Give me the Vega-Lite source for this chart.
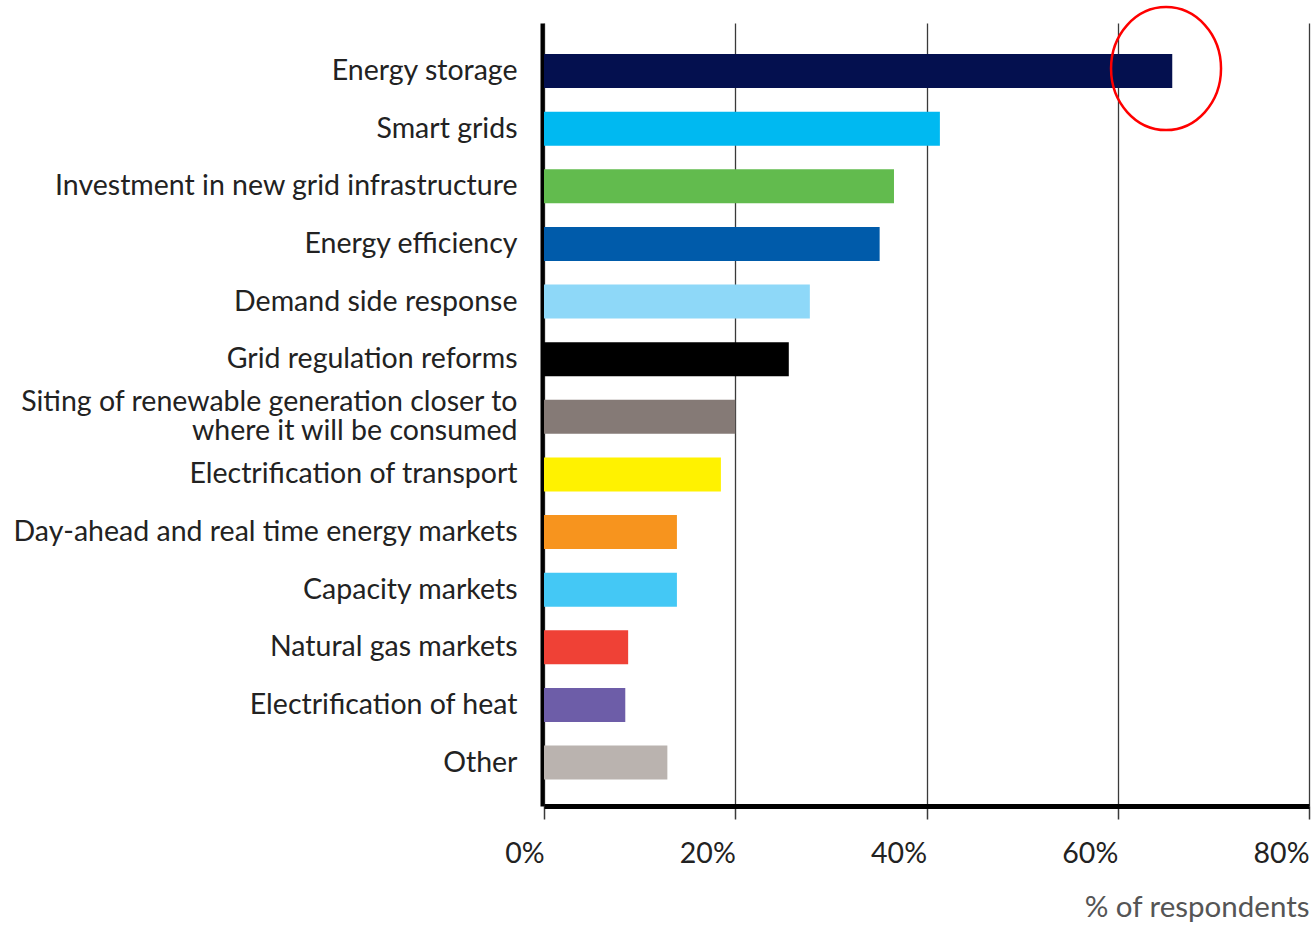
{
  "$schema": "https://vega.github.io/schema/vega-lite/v6.json",
  "autosize": "none",
  "width": 765,
  "height": 783,
  "padding": {"left": 544, "top": 23, "right": 3, "bottom": 119},
  "background": "white",
  "config": {
    "view": {"stroke": null},
    "font": "Lato",
    "axis": {"labelFont": "Lato", "titleFont": "Lato"}
  },
  "datasets": {
    "bars": [
      {"category": "Energy storage", "pct": 65.7},
      {"category": "Smart grids", "pct": 41.4},
      {"category": "Investment in new grid infrastructure", "pct": 36.6},
      {"category": "Energy efficiency", "pct": 35.1},
      {"category": "Demand side response", "pct": 27.8},
      {"category": "Grid regulation reforms", "pct": 25.6},
      {"category": "Siting of renewable generation closer to where it will be consumed", "pct": 20.0},
      {"category": "Electrification of transport", "pct": 18.5},
      {"category": "Day-ahead and real time energy markets", "pct": 13.9},
      {"category": "Capacity markets", "pct": 13.9},
      {"category": "Natural gas markets", "pct": 8.8},
      {"category": "Electrification of heat", "pct": 8.5},
      {"category": "Other", "pct": 12.9}
    ],
    "highlight": [
      {"category": "Energy storage", "pct": 65.05}
    ]
  },
  "layer": [
    {
      "data": {"name": "bars"},
      "mark": {"type": "bar"},
      "encoding": {
        "y": {
          "field": "category",
          "type": "nominal",
          "sort": null,
          "scale": {"paddingInner": 0.41, "paddingOuter": 0.5, "align": 0.54},
          "axis": {
            "title": null,
            "ticks": false,
            "domain": true,
            "domainColor": "#000000",
            "domainWidth": 4,
            "offset": 2,
            "grid": false,
            "labelFont": "Lato",
            "labelFontSize": 28.5,
            "labelColor": "#222222",
            "labelPadding": 25,
            "labelLimit": 600,
            "labelLineHeight": 29,
            "labelOffset": {
              "condition": {"test": "datum.value == 'Siting of renewable generation closer to where it will be consumed'", "value": -14.5},
              "value": 0
            },
            "labelExpr": "datum.label == 'Siting of renewable generation closer to where it will be consumed' ? ['Siting of renewable generation closer to', 'where it will be consumed'] : datum.label"
          }
        },
        "x": {
          "field": "pct",
          "type": "quantitative",
          "scale": {"domain": [0, 80], "nice": false},
          "axis": {
            "title": "% of respondents",
            "values": [0, 20, 40, 60, 80],
            "labelExpr": "datum.value + '%'",
            "grid": true,
            "gridColor": "#3a3a3a",
            "gridWidth": 1.3,
            "domain": true,
            "domainColor": "#000000",
            "domainWidth": 5,
            "ticks": true,
            "tickSize": 13,
            "tickColor": "#3a3a3a",
            "tickWidth": 1.5,
            "labelFont": "Lato",
            "labelFontSize": 28.5,
            "labelColor": "#222222",
            "labelAlign": "right",
            "labelBaseline": "top",
            "labelPadding": 20,
            "labelFlush": false,
            "titleFont": "Lato",
            "titleFontSize": 29.5,
            "titleFontWeight": "normal",
            "titleColor": "#555555",
            "titleAnchor": "end",
            "titleAlign": "right",
            "titleBaseline": "alphabetic",
            "titleX": 765,
            "titleY": 110
          }
        },
        "color": {
          "field": "category",
          "type": "nominal",
          "legend": null,
          "scale": {
            "domain": [
              "Energy storage",
              "Smart grids",
              "Investment in new grid infrastructure",
              "Energy efficiency",
              "Demand side response",
              "Grid regulation reforms",
              "Siting of renewable generation closer to where it will be consumed",
              "Electrification of transport",
              "Day-ahead and real time energy markets",
              "Capacity markets",
              "Natural gas markets",
              "Electrification of heat",
              "Other"
            ],
            "range": [
              "#04104f",
              "#00b9f1",
              "#62bb4e",
              "#005baa",
              "#8ed8f8",
              "#000000",
              "#857a76",
              "#fff200",
              "#f7941e",
              "#44c8f5",
              "#ef4136",
              "#6d5da8",
              "#bab3af"
            ]
          }
        }
      }
    },
    {
      "data": {"name": "highlight"},
      "mark": {
        "type": "point",
        "shape": "M 0 -1 A 0.894 1 0 1 1 0 1 A 0.894 1 0 1 1 0 -1 Z",
        "size": 15129,
        "filled": false,
        "stroke": "#ff0000",
        "strokeWidth": 2.5,
        "opacity": 1,
        "yOffset": -2.5
      },
      "encoding": {
        "y": {"field": "category", "type": "nominal", "sort": null},
        "x": {"field": "pct", "type": "quantitative"}
      }
    }
  ]
}
